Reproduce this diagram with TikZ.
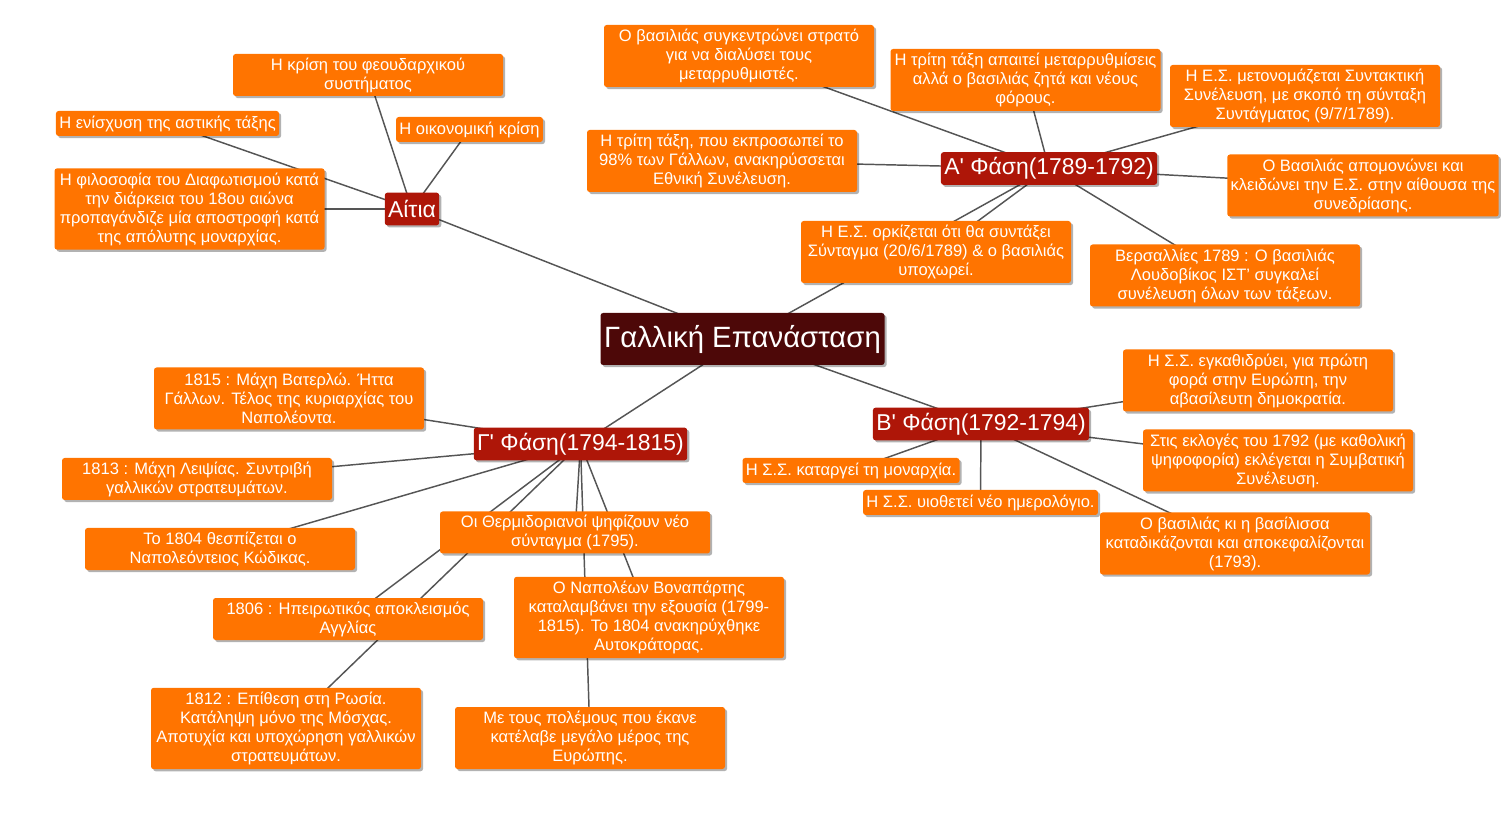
\documentclass[tikz,border=0pt]{standalone}
\usepackage{fontspec}
\newfontfamily\mapfont{Liberation Sans}
\usepackage{xcolor}
\usepackage{tikz}
\usetikzlibrary{shadows,backgrounds}

\definecolor{leafcol}{HTML}{FF7400}
\definecolor{phasecol}{HTML}{AE1608}
\definecolor{rootcol}{HTML}{4D0808}
\definecolor{linkcol}{HTML}{555555}

\begin{document}
\begin{tikzpicture}[
  x=0.75pt, y=-0.75pt,
  box/.style={text=white, rounded corners=2pt, align=center, inner xsep=2.5pt, inner ysep=1pt,
    drop shadow={shadow xshift=1.6pt, shadow yshift=-1.6pt, fill=black, opacity=0.3}},
  leaf/.style={box, fill=leafcol, font=\mapfont\fontsize{12.4pt}{14.25pt}\selectfont, minimum height=18.75pt},
  wide/.style={leaf, minimum width=202.5pt},
  two/.style={wide, minimum height=31.5pt},
  three/.style={wide, minimum height=46.5pt},
  four/.style={wide, minimum height=61pt},
  phase/.style={box, fill=phasecol, font=\mapfont\fontsize{17.2pt}{19pt}\selectfont, minimum height=24.5pt},
  root/.style={box, fill=rootcol, font=\mapfont\fontsize{22pt}{25pt}\selectfont, minimum width=213pt, minimum height=39pt},
  link/.style={draw=linkcol, line width=1.1pt},
]

\useasboundingbox (0,0) rectangle (1511,830);

% --- Root ---
\node[root] (root) at (742.5,339) {Γαλλική Επανάσταση};

% --- Αίτια ---
\node[phase] (aitia) at (412,209) {Αίτια};
\node[two] (a1) at (368,75) {Η κρίση του φεουδαρχικού\\συστήματος};
\node[leaf] (a2) at (167.5,123.5) {Η ενίσχυση της αστικής τάξης};
\node[leaf] (a3) at (469.5,129.5) {Η οικονομική κρίση};
\node[four] (a4) at (189.5,209) {Η φιλοσοφία του Διαφωτισμού κατά\\την διάρκεια του 18ου αιώνα\\προπαγάνδιζε μία αποστροφή κατά\\της απόλυτης μοναρχίας.};

% --- Α' Φάση ---
\node[phase] (pa) at (1049,168.5) {Α' Φάση(1789-1792)};
\node[three] (pa1) at (739,56) {Ο βασιλιάς συγκεντρώνει στρατό\\για να διαλύσει τους\\μεταρρυθμιστές.};
\node[three] (pa2) at (1025.5,80) {Η τρίτη τάξη απαιτεί μεταρρυθμίσεις\\αλλά ο βασιλιάς ζητά και νέους\\φόρους.};
\node[three] (pa3) at (1305,96) {Η Ε.Σ. μετονομάζεται Συντακτική\\Συνέλευση, με σκοπό τη σύνταξη\\Συντάγματος (9/7/1789).};
\node[three] (pa4) at (1363,185.5) {Ο Βασιλιάς απομονώνει και\\κλειδώνει την Ε.Σ. στην αίθουσα της\\συνεδρίασης.};
\node[three] (pa5) at (1225,275.5) {Βερσαλλίες 1789 : Ο βασιλιάς\\Λουδοβίκος ΙΣΤ’ συγκαλεί\\συνέλευση όλων των τάξεων.};
\node[three] (pa6) at (936,252) {Η Ε.Σ. ορκίζεται ότι θα συντάξει\\Σύνταγμα (20/6/1789) \& ο βασιλιάς\\υποχωρεί.};
\node[three] (pa7) at (722,161) {Η τρίτη τάξη, που εκπροσωπεί το\\98\% των Γάλλων, ανακηρύσσεται\\Εθνική Συνέλευση.};

% --- Β' Φάση ---
\node[phase] (pb) at (981,424) {Β' Φάση(1792-1794)};
\node[three] (pb1) at (1258,380.5) {Η Σ.Σ. εγκαθιδρύει, για πρώτη\\φορά στην Ευρώπη, την\\αβασίλευτη δημοκρατία.};
\node[three] (pb2) at (1278,460.5) {Στις εκλογές του 1792 (με καθολική\\ψηφοφορία) εκλέγεται η Συμβατική\\Συνέλευση.};
\node[three] (pb3) at (1235,543.5) {Ο βασιλιάς κι η βασίλισσα\\καταδικάζονται και αποκεφαλίζονται\\(1793).};
\node[leaf] (pb4) at (980.5,502.5) {Η Σ.Σ. υιοθετεί νέο ημερολόγιο.};
\node[leaf] (pb5) at (851,470.5) {Η Σ.Σ. καταργεί τη μοναρχία.};

% --- Γ' Φάση ---
\node[phase] (pc) at (580.5,444) {Γ' Φάση(1794-1815)};
\node[three] (pc1) at (289,398.5) {1815 : Μάχη Βατερλώ. Ήττα\\Γάλλων. Τέλος της κυριαρχίας του\\Ναπολέοντα.};
\node[two] (pc2) at (197,479) {1813 : Μάχη Λειψίας. Συντριβή\\γαλλικών στρατευμάτων.};
\node[two] (pc3) at (220,549) {Το 1804 θεσπίζεται ο\\Ναπολεόντειος Κώδικας.};
\node[two] (pc4) at (575,532.5) {Οι Θερμιδοριανοί ψηφίζουν νέο\\σύνταγμα (1795).};
\node[two] (pc5) at (348,619) {1806 : Ηπειρωτικός αποκλεισμός\\Αγγλίας};
\node[four] (pc6) at (286,728.5) {1812 : Επίθεση στη Ρωσία.\\Κατάληψη μόνο της Μόσχας.\\Αποτυχία και υποχώρηση γαλλικών\\στρατευμάτων.};
\node[four] (pc7) at (649,617.5) {Ο Ναπολέων Βοναπάρτης\\καταλαμβάνει την εξουσία (1799-\\1815). Το 1804 ανακηρύχθηκε\\Αυτοκράτορας.};
\node[three] (pc8) at (590,738) {Με τους πολέμους που έκανε\\κατέλαβε μεγάλο μέρος της\\Ευρώπης.};

% --- Links ---
\begin{scope}[on background layer]
\foreach \a/\b in {root/aitia, root/pa, root/pb, root/pc,
    aitia/a1, aitia/a2, aitia/a3, aitia/a4,
    pa/pa1, pa/pa2, pa/pa3, pa/pa4, pa/pa5, pa/pa6, pa/pa7,
    pb/pb1, pb/pb2, pb/pb3, pb/pb4, pb/pb5,
    pc/pc1, pc/pc2, pc/pc3, pc/pc4, pc/pc5, pc/pc6, pc/pc7, pc/pc8}
  \draw[link] (\a.center) -- (\b.center);
\end{scope}

\end{tikzpicture}
\end{document}
